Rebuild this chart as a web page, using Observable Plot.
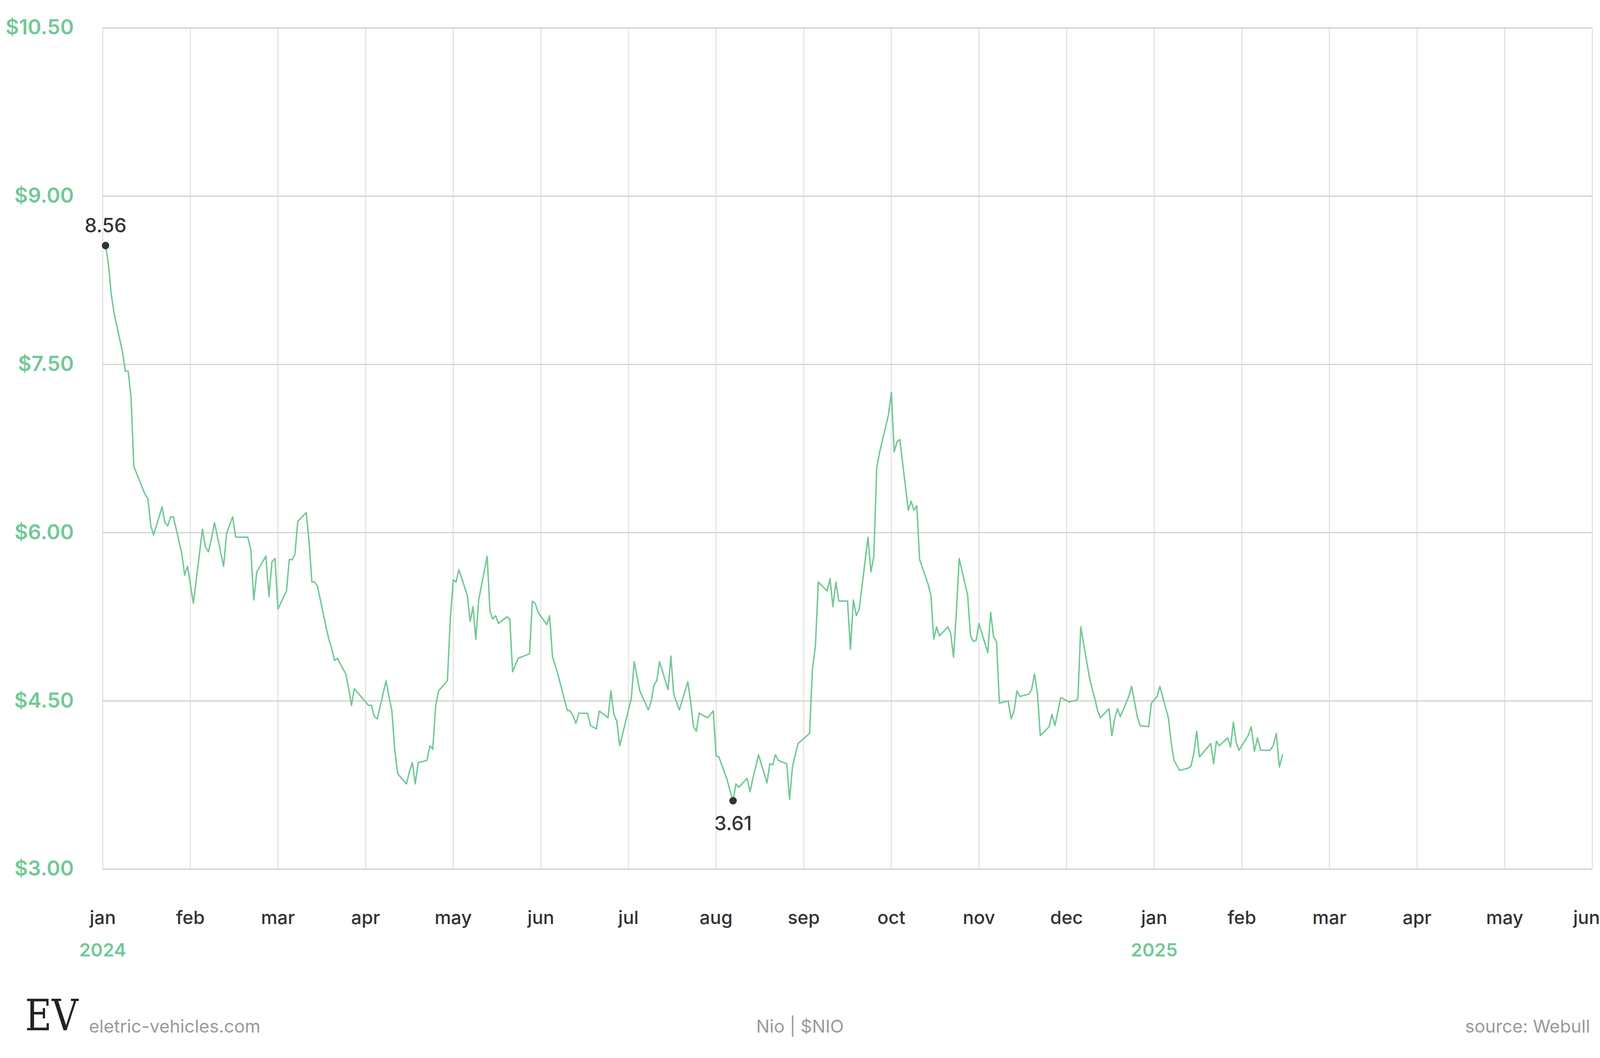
<!DOCTYPE html>
<html><head><meta charset="utf-8">
<script src="https://cdn.jsdelivr.net/npm/d3@7"></script>
<script src="https://cdn.jsdelivr.net/npm/@observablehq/plot@0.6"></script>
<style>
html,body{margin:0;background:#fff;font-family:Inter,"Noto Sans",sans-serif;overflow:hidden;}
#wrap{position:relative;}
.foot{position:absolute;color:#9a9a9a;white-space:nowrap;}
</style></head><body><div id="wrap"></div>
<script>
const startDate = "2024-01-02";
const endDate = "2025-02-14";
const holidays = ["2024-01-15","2024-02-19","2024-03-29","2024-05-27","2024-06-19","2024-07-04","2024-09-02","2024-11-28","2024-12-25","2025-01-01","2025-01-09","2025-01-20"];
const prices = [
8.56,8.40,8.13,7.96,7.61,7.44,7.44,7.21,6.59,6.34,6.30,6.06,5.98,6.23,6.09,6.06,6.14,6.14,5.81,5.62,5.70,
5.54,5.37,6.03,5.87,5.83,5.95,6.09,5.70,5.99,6.07,6.14,5.96,5.96,5.85,5.40,5.65,5.79,5.43,5.74,5.77,
5.32,5.48,5.76,5.76,5.81,6.10,6.18,5.92,5.56,5.56,5.52,5.16,5.05,4.97,4.86,4.88,4.74,4.61,4.46,4.61,
4.49,4.46,4.46,4.36,4.34,4.68,4.54,4.41,4.06,3.85,3.76,3.87,3.95,3.76,3.95,3.97,4.10,4.07,4.46,4.59,4.68,
5.23,5.58,5.56,5.67,5.44,5.21,5.34,5.05,5.40,5.79,5.30,5.23,5.26,5.19,5.25,5.23,4.76,4.82,4.88,4.92,5.39,5.37,
5.29,5.18,5.26,4.89,4.81,4.72,4.42,4.41,4.37,4.30,4.39,4.39,4.28,4.25,4.41,4.35,4.59,4.38,4.32,4.10,4.42,
4.52,4.85,4.59,4.42,4.49,4.64,4.68,4.85,4.60,4.90,4.56,4.49,4.42,4.67,4.49,4.27,4.23,4.39,4.35,4.38,4.41,
4.01,4.00,3.79,3.69,3.61,3.76,3.73,3.81,3.69,3.81,3.91,4.02,3.77,3.94,3.93,4.02,3.97,3.94,3.62,3.91,4.02,
4.12,4.21,4.79,4.99,5.56,5.48,5.59,5.34,5.56,5.39,5.39,4.96,5.40,5.26,5.32,5.96,5.65,5.79,6.58,6.72,7.05,7.25,
6.72,6.81,6.83,6.20,6.28,6.20,6.24,5.76,5.54,5.44,5.05,5.16,5.08,5.16,5.10,4.89,5.29,5.77,5.44,5.08,5.03,5.04,5.19,4.93,5.29,5.07,5.03,
4.48,4.50,4.34,4.41,4.59,4.54,4.56,4.60,4.74,4.57,4.19,4.27,4.38,4.28,4.53,4.49,4.50,4.50,4.52,5.16,4.72,4.61,4.52,4.41,4.35,4.43,4.19,4.34,4.43,4.36,4.54,4.63,4.36,4.28,4.27,
4.48,4.54,4.63,4.35,4.13,3.97,3.88,3.90,3.92,4.03,4.23,4.00,4.12,3.94,4.14,4.10,4.17,4.09,4.31,4.13,4.06,4.19,4.27,
4.05,4.17,4.06,4.06,4.10,4.21,3.91,4.02
];
const monthLabels = ["jan","feb","mar","apr","may","jun","jul","aug","sep","oct","nov","dec","jan","feb","mar","apr","may","jun"];
const yearLabels = [{m:0,t:"2024"},{m:12,t:"2025"}];
const yTicks = [3,4.5,6,7.5,9,10.5];

const hol = new Set(holidays);
const days = [];
for (let d = new Date(startDate+"T12:00:00Z"); d <= new Date(endDate+"T12:00:00Z"); d = new Date(d.getTime()+864e5)) {
  const w = d.getUTCDay(); const s = d.toISOString().slice(0,10);
  if (w===0||w===6||hol.has(s)) continue; days.push(d);
}
function mpos(d){const y=d.getUTCFullYear(),m=d.getUTCMonth();const dim=new Date(Date.UTC(y,m+1,0)).getUTCDate();return (y-2024)*12+m+(d.getUTCDate()-1)/dim;}
const n = Math.min(days.length, prices.length);
const data = d3.range(n).map(i=>({x:mpos(days[i]), v:prices[i]}));
const maxPt = data[0];
const minPt = data.reduce((a,b)=>b.v<a.v?b:a);

const green="#72c995", dark="#333333";
const VW = window.innerWidth || 6117, VH = window.innerHeight || 2709;
const sx = VW/6117, sy = VH/2709, f = Math.min(sx, sy)*1.1;
const H = Math.round(2560*sy);
const monthObjs = monthLabels.map((t,i)=>({i,t}));
const chart = Plot.plot({
  width:VW, height:H,
  marginLeft:392*sx, marginRight:30*sx, marginTop:71*sy, marginBottom:H-2225*sy,
  style:{fontFamily:"Inter, 'Noto Sans', sans-serif", background:"transparent", overflow:"visible"},
  x:{domain:[0,17], axis:null},
  y:{domain:[3,10.5], axis:null},
  marks:[
    Plot.ruleX(d3.range(18), {stroke:"#e3e3e3", strokeWidth:4*f}),
    Plot.ruleY(yTicks, {stroke:"#cfcfcf", strokeWidth:4*f}),
    Plot.text(yTicks, {x:0, y:d=>d, text:d=>"$"+d.toFixed(2), textAnchor:"end", dx:-110*sx, fill:green, fontSize:72*f, fontWeight:600}),
    Plot.text(monthObjs.slice(0,17), {x:"i", y:3, text:"t", dy:125*sy, fill:dark, fontSize:64*f, fontWeight:500}),
    Plot.text(monthObjs.slice(17), {x:"i", y:3, text:"t", dy:125*sy, dx:-20*f, fill:dark, fontSize:64*f, fontWeight:500}),
    Plot.text(yearLabels, {x:"m", y:3, text:"t", dy:208*sy, fill:green, fontSize:64*f, fontWeight:600}),
    Plot.line(data, {x:"x", y:"v", stroke:green, strokeWidth:5*f}),
    Plot.dot([maxPt,minPt], {x:"x", y:"v", r:13*f, fill:dark}),
    Plot.text([maxPt], {x:"x", y:"v", text:d=>d.v.toFixed(2), dy:-50*sy, fill:dark, fontSize:68*f, fontWeight:500}),
    Plot.text([minPt], {x:"x", y:"v", text:d=>d.v.toFixed(2), dy:60*sy, fill:dark, fontSize:68*f, fontWeight:500})
  ]
});
const wrap=document.getElementById("wrap");
wrap.style.width=VW+"px"; wrap.style.height=VH+"px";
wrap.appendChild(chart);
const ft = 2600*sy, fz = 62*f;
wrap.insertAdjacentHTML("beforeend",
 `<div style="position:absolute;left:${96*sx}px;top:${2545*sy}px;font-family:'DejaVu Serif',serif;font-size:${150*f}px;color:#222;line-height:1;transform:scaleX(0.85);transform-origin:left">EV</div>
  <div class="foot" style="left:${340*sx}px;top:${ft}px;font-size:${fz}px">eletric-vehicles.com</div>
  <div class="foot" style="left:0;width:${VW}px;text-align:center;top:${ft}px;font-size:${fz}px">Nio | $NIO</div>
  <div class="foot" style="right:${38*sx}px;top:${ft}px;font-size:${fz}px">source: Webull</div>`);
</script></body></html>
